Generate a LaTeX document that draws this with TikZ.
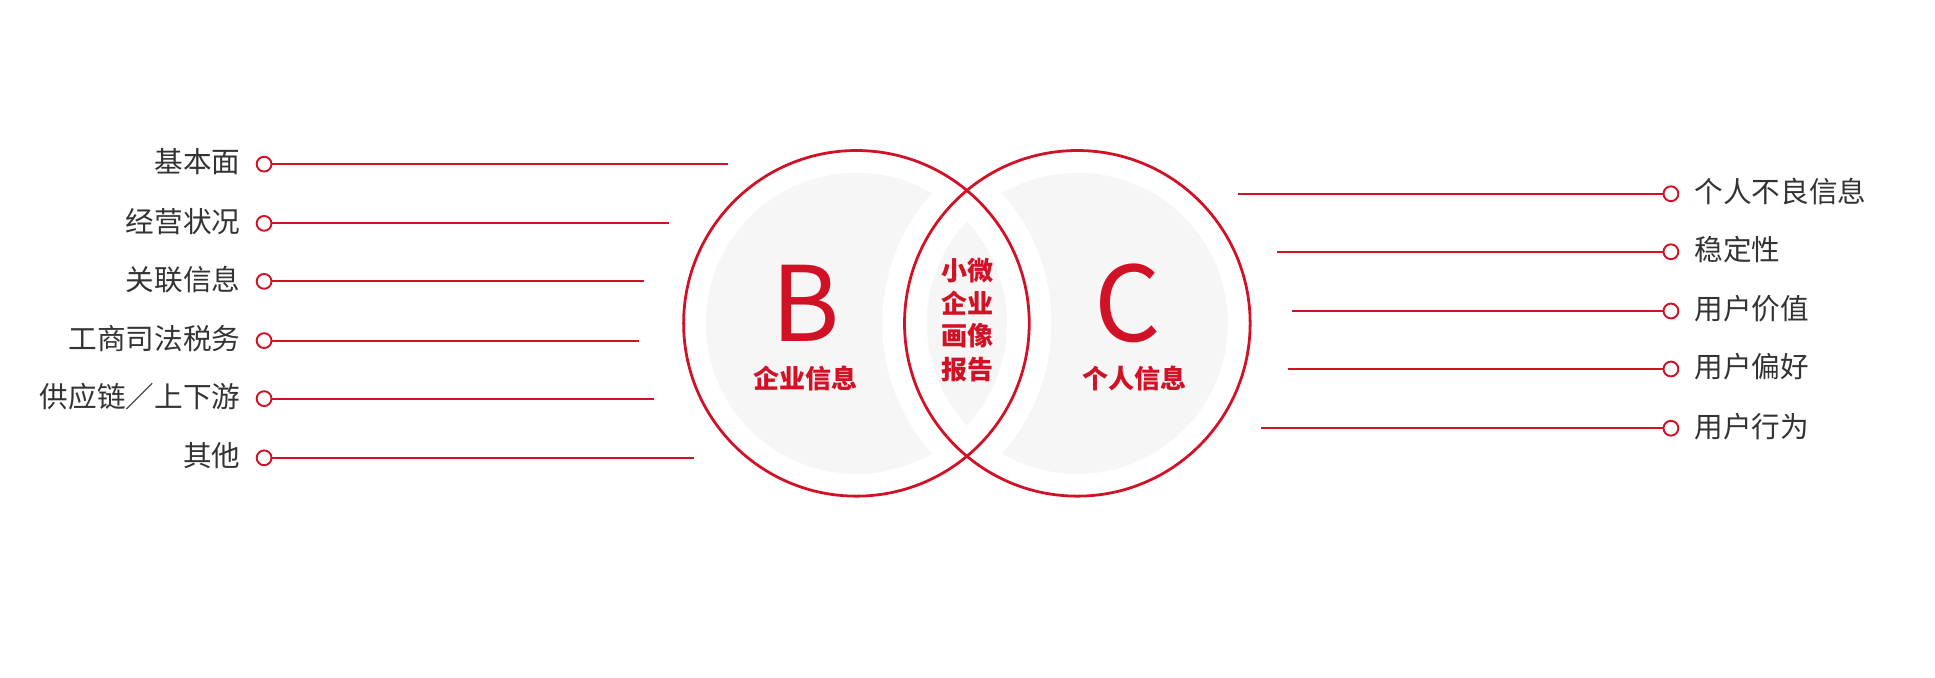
\documentclass[tikz,border=0pt]{standalone}
\usepackage{fontspec}
\setmainfont{Noto Sans CJK SC}
\usepackage{tikz}
\usetikzlibrary{positioning}
\definecolor{vennred}{RGB}{208,17,38}
\definecolor{lensgray}{RGB}{246,246,246}
\definecolor{itemgray}{RGB}{51,51,51}

\begin{document}
\begin{tikzpicture}[
        x=0.025cm, y=-0.025cm,
        ring/.style={circle, draw=vennred, line width=1.6pt, minimum size=7cm, inner sep=0pt},
        dot/.style={circle, draw=vennred, line width=1.1pt, fill=white, minimum size=0.3cm, inner sep=0pt},
        item/.style={text=itemgray, font=\fontsize{16.5}{16.5}\selectfont, inner sep=0pt, text height=1.02em, text depth=0em},
        tag/.style={text=vennred, font=\fontsize{15}{15}\selectfont\bfseries, inner sep=0pt, text height=1.02em, text depth=0em},
        letter/.style={text=vennred, font=\fontsize{60}{60}\selectfont, inner sep=0pt},
        link/.style={draw=vennred, line width=1.1pt}
    ]
    \useasboundingbox (0,0) rectangle (1568,549);

    % Centres
    \coordinate (bc) at (694,262);
    \coordinate (cc) at (873,262);

    % Grey fills
    \fill[lensgray] (bc) circle (3.05cm);
    \fill[lensgray] (cc) circle (3.05cm);
    \begin{scope}
        \clip (bc) circle (3.05cm);
        \fill[white, even odd rule] (cc) circle (3.95cm) (cc) circle (3.05cm);
    \end{scope}
    \begin{scope}
        \clip (cc) circle (3.05cm);
        \fill[white, even odd rule] (bc) circle (3.95cm) (bc) circle (3.05cm);
    \end{scope}

    % Rings
    \node[ring] at (bc) (bring) {};
    \node[ring] at (cc) (cring) {};

    % B side
    \node[letter] at (653,246) (bletter) {B};
    \node[tag] at (653,308) (btag) {企业信息};

    % C side
    \node[letter] at (914,246) (cletter) {C};
    \node[tag] at (919,308) (ctag) {个人信息};

    % Lens
    \node[tag] at (784,220) (report1) {小微};
    \node[tag] at (784,247) (report2) {企业};
    \node[tag] at (784,273) (report3) {画像};
    \node[tag] at (784,300) (report4) {报告};

    % Left items
    \node[item, anchor=east] at (195,133) (bitem1) {基本面};
    \node[item, anchor=east] at (195,181) (bitem2) {经营状况};
    \node[item, anchor=east] at (195,228) (bitem3) {关联信息};
    \node[item, anchor=east] at (195,276) (bitem4) {工商司法税务};
    \node[item, anchor=east] at (195,323) (bitem5) {供应链／上下游};
    \node[item, anchor=east] at (195,371) (bitem6) {其他};

    \coordinate (bend1) at (590,133);
    \coordinate (bend2) at (542,181);
    \coordinate (bend3) at (522,228);
    \coordinate (bend4) at (518,276);
    \coordinate (bend5) at (530,323);
    \coordinate (bend6) at (562,371);

    \draw[link] (214,133) -- (bend1);
    \draw[link] (214,181) -- (bend2);
    \draw[link] (214,228) -- (bend3);
    \draw[link] (214,276) -- (bend4);
    \draw[link] (214,323) -- (bend5);
    \draw[link] (214,371) -- (bend6);

    \node[dot] at (214,133) (bdot1) {};
    \node[dot] at (214,181) (bdot2) {};
    \node[dot] at (214,228) (bdot3) {};
    \node[dot] at (214,276) (bdot4) {};
    \node[dot] at (214,323) (bdot5) {};
    \node[dot] at (214,371) (bdot6) {};

    % Right items
    \node[item, anchor=west] at (1373,157) (citem1) {个人不良信息};
    \node[item, anchor=west] at (1373,204) (citem2) {稳定性};
    \node[item, anchor=west] at (1373,252) (citem3) {用户价值};
    \node[item, anchor=west] at (1373,299) (citem4) {用户偏好};
    \node[item, anchor=west] at (1373,347) (citem5) {用户行为};

    \coordinate (cend1) at (1003,157);
    \coordinate (cend2) at (1035,204);
    \coordinate (cend3) at (1047,252);
    \coordinate (cend4) at (1044,299);
    \coordinate (cend5) at (1022,347);

    \draw[link] (cend1) -- (1354,157);
    \draw[link] (cend2) -- (1354,204);
    \draw[link] (cend3) -- (1354,252);
    \draw[link] (cend4) -- (1354,299);
    \draw[link] (cend5) -- (1354,347);

    \node[dot] at (1354,157) (cdot1) {};
    \node[dot] at (1354,204) (cdot2) {};
    \node[dot] at (1354,252) (cdot3) {};
    \node[dot] at (1354,299) (cdot4) {};
    \node[dot] at (1354,347) (cdot5) {};

\end{tikzpicture}
\end{document}
